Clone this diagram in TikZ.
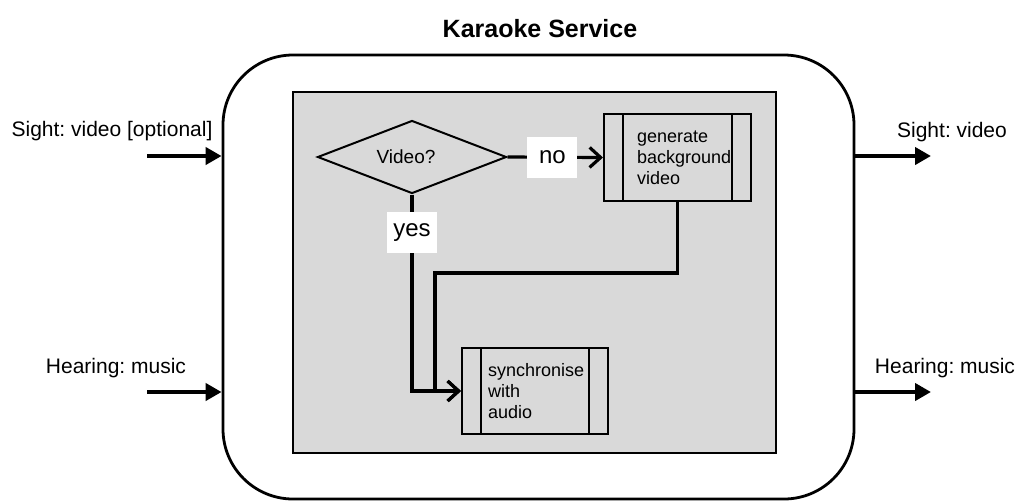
\documentclass[tikz,border=0pt]{standalone}
\usepackage{fontspec}
\setmainfont{Liberation Sans}
\usetikzlibrary{arrows.meta, positioning, shapes.geometric, calc}
\definecolor{panelgray}{RGB}{217,217,217}
\frenchspacing

\begin{document}
\begin{tikzpicture}[x=0.5pt, y=-0.5pt,
    every node/.style={font=\fontsize{10.5}{12.6}\selectfont},
    process/.style={draw, line width=1pt, align=left, minimum width=73.5pt, minimum height=43.5pt,
      inner sep=0pt, font=\fontsize{9}{10.6}\selectfont,
      path picture={\draw[line width=1pt]
        ([xshift=9.5pt]path picture bounding box.north west) -- ([xshift=9.5pt]path picture bounding box.south west)
        ([xshift=-9.5pt]path picture bounding box.north east) -- ([xshift=-9.5pt]path picture bounding box.south east);}},
    answer/.style={fill=white, minimum width=25pt, minimum height=20.5pt, inner sep=0pt, font=\fontsize{12}{14}\selectfont},
    flow/.style={line width=1.6pt},
    io/.style={line width=2pt, -{Triangle[length=8pt, width=8.5pt]}}]
  \useasboundingbox (0,0) rectangle (1022,500);

  \node[font=\bfseries\fontsize{12.5}{15}\selectfont] (title) at (540,29) {Karaoke Service};
  \node[draw, line width=1.4pt, rounded corners=35pt, minimum width=315.5pt, minimum height=222pt] (svc) at (538.5,277) {};
  \node[draw, fill=panelgray, line width=1pt, minimum width=241.5pt, minimum height=180.5pt] (core) at (534.5,272.5) {};

  % decision and the two processes
  \node[draw, diamond, aspect=2.59, line width=1pt, minimum width=94.5pt, minimum height=36.5pt, inner sep=0pt,
        font=\fontsize{9.5}{11.4}\selectfont] (dec) at (412,157) {Video?\hspace*{6pt}};
  \node[process, text width=40.5pt] (gen) at (677.5,157.5) {generate\\background\\video};
  \node[process, minimum width=73pt, minimum height=43pt, text width=47pt] (sync) at (535,391) {synchronise\\with\\audio};

  \draw[flow, -{Straight Barb[length=5.5pt, width=10pt]}] (dec.east) -- node[answer, pos=0.47] (no) {no} (gen.west);
  \draw[flow, -{Straight Barb[length=5.5pt, width=10pt]}] (dec.south) |- node[answer, pos=0.097] (yes) {yes} (sync.west);
  \coordinate (bend) at (435,273);
  \draw[flow, -{Straight Barb[length=5.5pt, width=10pt]}] (gen.south) |- (bend) |- (sync.west);

  % inputs and outputs
  \coordinate (sightsrc) at (147,156);
  \coordinate (hearsrc) at (147,392);
  \coordinate (sightdst) at (931,156);
  \coordinate (heardst) at (931,392);
  \draw[io] (sightsrc) -- (sightsrc -| svc.west);
  \draw[io] (hearsrc) -- (hearsrc -| svc.west);
  \draw[io] (sightdst -| svc.east) -- (sightdst);
  \draw[io] (heardst -| svc.east) -- (heardst);

  \node (sightin) at (112,131) {Sight: video [optional]};
  \node (hearin) at (116,368) {Hearing: music};
  \node (sightout) at (952,132) {Sight: video};
  \node (hearout) at (945,368) {Hearing: music};
\end{tikzpicture}
\end{document}
